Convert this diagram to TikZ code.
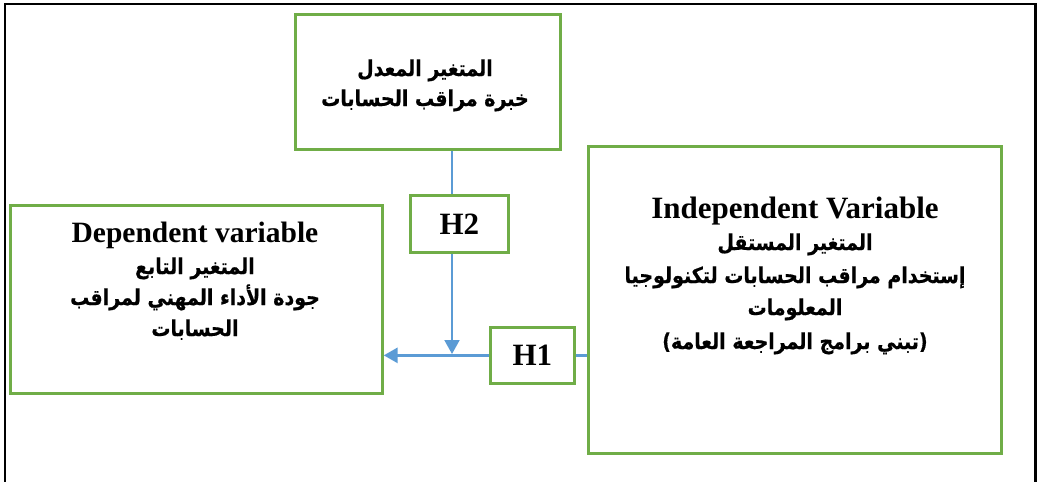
\documentclass[tikz,border=0pt]{standalone}
\usepackage{fontspec}
\usepackage{graphicx}
\setmainfont{Liberation Serif}
\newfontfamily\arfont[Script=Arabic,FakeBold=0.6]{DejaVu Sans}
\TeXXeTstate=1
\usetikzlibrary{arrows.meta}
\definecolor{boxgreen}{HTML}{70AD47}
\definecolor{linkblue}{HTML}{5B9BD5}
\newcommand{\artall}[1]{\scalebox{1}[1.15]{\beginR #1\endR}}
\tikzset{
  varbox/.style={draw=boxgreen, line width=2.7pt, inner sep=0pt, anchor=north west},
  entext/.style={anchor=base, inner sep=0pt, font=\bfseries\fontsize{29.5}{30}\selectfont},
  artext/.style={anchor=base, inner sep=0pt, font=\arfont\bfseries\fontsize{19}{20}\selectfont},
  htext/.style={font=\bfseries\fontsize{31}{31}\selectfont, inner sep=0pt},
  link/.style={draw=linkblue, line width=2pt},
  tip/.style={-{Triangle[length=14pt,width=15pt]}}
}
\begin{document}
\begin{tikzpicture}[x=1pt,y=-1pt]
\useasboundingbox (0,0) rectangle (1037,482);
% outer frame (bottom edge lies outside the picture)
\draw[black, line width=2.6pt] (5,482) -- (5,4) -- (1035.5,4) -- (1035.5,482);

% boxes
\node[varbox, minimum width=265pt, minimum height=135pt] (mod) at (294,13) {};
\node[varbox, minimum width=372pt, minimum height=188pt] (dep) at (9,204) {};
\node[varbox, minimum width=413pt, minimum height=307pt] (ind) at (587,145) {};
\node[varbox, minimum width=98pt, minimum height=57pt] (h2) at (409,194) {};
\node[varbox, minimum width=84pt, minimum height=56pt] (h1) at (489,326) {};

% hypothesis labels
\node[htext] (h2t) at (h2.center) {H2};
\node[htext] (h1t) at (h1.center) {H1};

% moderator text
\node[artext] (mod1) at (425,76) {\artall{المتغير المعدل}};
\node[artext] (mod2) at (425,106) {\artall{خبرة مراقب الحسابات}};

% dependent text
\node[entext] (dep0) at (195,242) {Dependent variable};
\node[artext] (dep1) at (195,274) {\artall{المتغير التابع}};
\node[artext] (dep2) at (195,305) {\artall{جودة الأداء المهني لمراقب}};
\node[artext] (dep3) at (195,336) {\artall{الحسابات}};

% independent text
\node[entext, font=\bfseries\fontsize{31}{31}\selectfont] (ind0) at (795,218) {Independent Variable};
\node[artext] (ind1) at (795,250) {\artall{المتغير المستقل}};
\node[artext] (ind2) at (795,283) {\artall{إستخدام مراقب الحسابات لتكنولوجيا}};
\node[artext] (ind3) at (795,315) {\artall{المعلومات}};
\node[artext] (ind4) at (795,349) {\artall{(تبني برامج المراجعة العامة)}};

% connectors
\coordinate (vx) at (452,0);
\coordinate (hy) at (0,354);
\draw[link] (mod.south -| vx) -- (h2.north -| vx);
\draw[link, tip] (h2.south -| vx) -- (vx |- hy);
\draw[link, line width=3pt, tip] (h1.west) -- (h1.west -| dep.east);
\draw[link, line width=3pt] (h1.east) -- (h1.east -| ind.west);
\end{tikzpicture}
\end{document}
